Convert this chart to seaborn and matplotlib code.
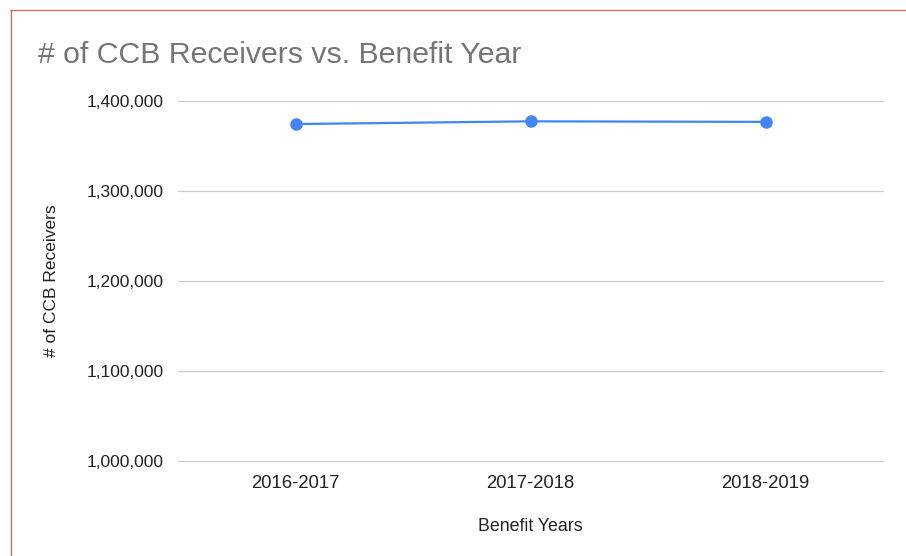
import matplotlib
matplotlib.use("Agg")
import matplotlib.pyplot as plt
import matplotlib.ticker as mticker
from matplotlib.lines import Line2D
import seaborn as sns
import pandas as pd

years = ["2016-2017", "2017-2018", "2018-2019"]
receivers = [1374400, 1377400, 1376800]
y_ticks = [1000000, 1100000, 1200000, 1300000, 1400000]

sns.set_theme(style="white")
plt.rcParams['font.family'] = ['Liberation Sans', 'DejaVu Sans']

df = pd.DataFrame({"year": years, "receivers": receivers})

fig = plt.figure(figsize=(9.06, 5.56), dpi=100)
ax = fig.add_axes([178/906, 1-461/556, (883-178)/906, (461-101)/556])

sns.lineplot(data=df, x="year", y="receivers", ax=ax, color="#4285F4",
             linewidth=1.6, marker="o", markersize=9, markeredgewidth=0,
             markerfacecolor="#4285F4")

ax.set_xlim(-0.5, 2.5)
ax.set_ylim(1000000, 1400000)
ax.set_yticks(y_ticks)
ax.yaxis.set_major_formatter(mticker.FuncFormatter(lambda v, p: f"{int(v):,}"))
ax.grid(axis="y", color="#cccccc", linewidth=0.9)
ax.grid(axis="x", visible=False)
ax.set_axisbelow(True)
for gl in ax.yaxis.get_gridlines():
    gl.set_clip_on(False)
for s in ax.spines.values():
    s.set_visible(False)
ax.tick_params(axis="y", length=0, labelsize=12.5, colors="#222222", pad=10)
ax.tick_params(axis="x", length=0, labelsize=13.3, colors="#222222", pad=10)

ax.set_xlabel("Benefit Years", fontsize=12.8, color="#222222", labelpad=19)
ax.set_ylabel("# of CCB Receivers", fontsize=12.5, color="#222222", labelpad=20)

fig.text(38/906, 1-55/556, "# of CCB Receivers vs. Benefit Year", fontsize=21.8,
         color="#757575", ha="left", va="center")

# red frame lines (top and left)
fig.add_artist(Line2D([10/906, 1], [1-9.5/556, 1-9.5/556], transform=fig.transFigure,
                      color="#d96b6b", linewidth=1))
fig.add_artist(Line2D([10.5/906, 10.5/906], [0, 1-9.5/556], transform=fig.transFigure,
                      color="#d96b6b", linewidth=1))

fig.savefig("out.png", dpi=100, facecolor="white")
